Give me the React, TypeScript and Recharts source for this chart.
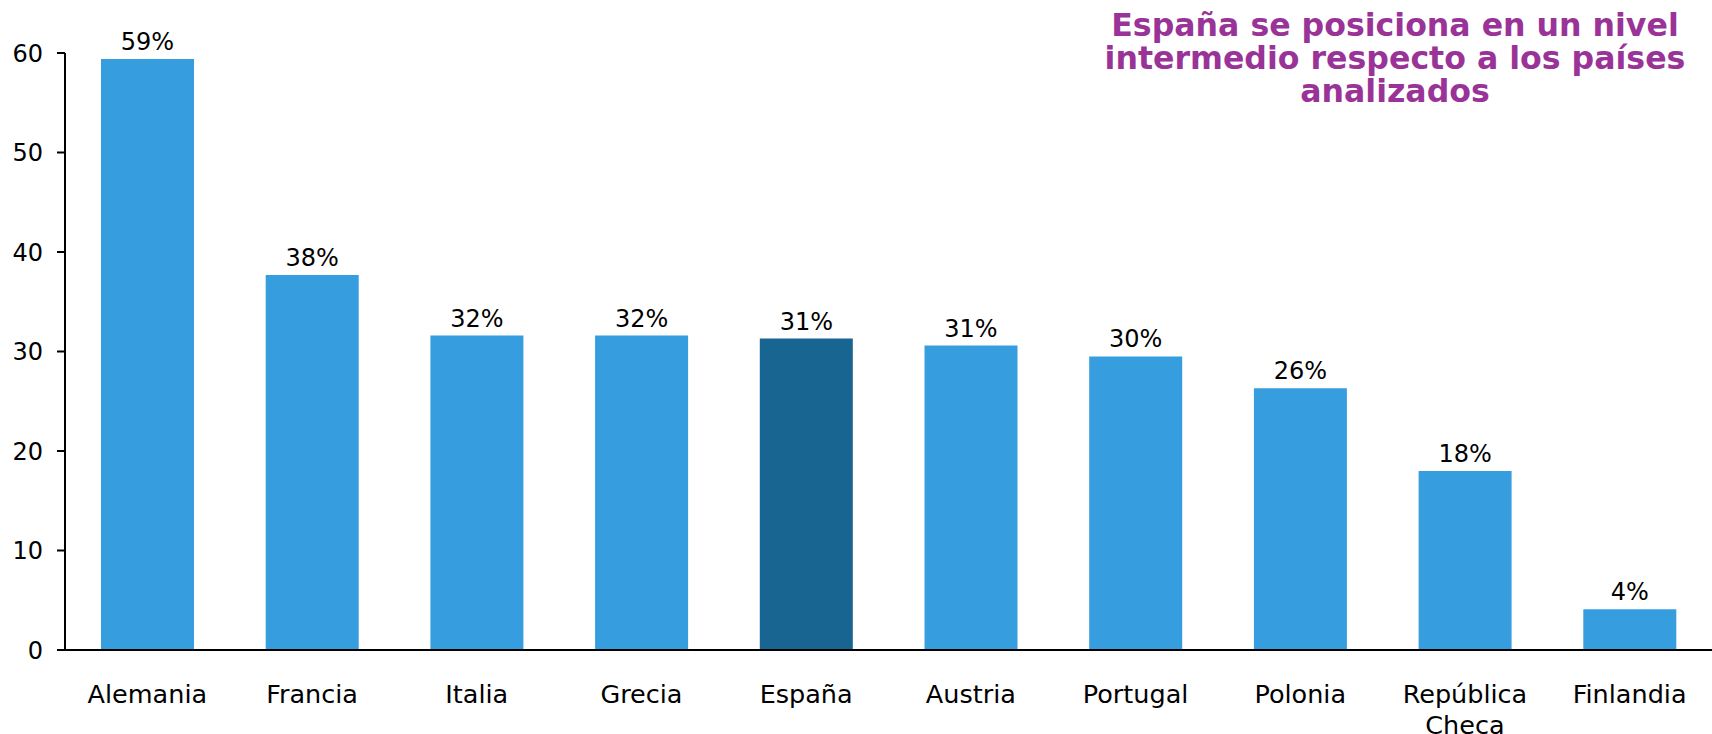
import { BarChart, Bar, XAxis, YAxis, Cell, LabelList } from 'recharts'

const countries = [
  'Alemania',
  'Francia',
  'Italia',
  'Grecia',
  'España',
  'Austria',
  'Portugal',
  'Polonia',
  'República Checa',
  'Finlandia',
]
const values = [59.4, 37.7, 31.6, 31.6, 31.3, 30.6, 29.5, 26.3, 18.0, 4.1]
const yTicks = [0, 10, 20, 30, 40, 50, 60]
const highlight = 'España'

const data = countries.map((name, i) => ({ name, value: values[i] }))

const FONT = '"DejaVu Sans", Verdana, sans-serif'

// two-word labels wrap onto a second line, like "República / Checa"
const CountryTick = ({ x, y, payload }: { x?: number; y?: number; payload?: { value: string } }) => {
  const words = payload && payload.value.includes(' ') ? payload.value.split(' ') : [payload?.value ?? '']
  return (
    <text x={x} y={y} textAnchor="middle" fill="#000" fontSize={25.5} fontFamily={FONT}>
      {words.map((w, i) => (
        <tspan key={w} x={x} dy={i === 0 ? 18 : 31}>
          {w}
        </tspan>
      ))}
    </text>
  )
}

export default function App() {
  return (
    <div style={{ position: 'absolute', left: 0, top: 0, width: 1712, height: 734, background: '#fff', fontFamily: FONT }}>
      <BarChart width={1712} height={734} data={data} margin={{ top: 53, right: 0, bottom: 0, left: 0 }}>
        <XAxis
          dataKey="name"
          height={84}
          tickLine={false}
          tickSize={0}
          tickMargin={35}
          axisLine={{ stroke: '#000', strokeWidth: 2 }}
          tick={<CountryTick />}
          interval={0}
        />
        <YAxis
          width={65}
          domain={[0, 60]}
          ticks={yTicks}
          tickSize={8}
          tickMargin={14}
          axisLine={{ stroke: '#000', strokeWidth: 2 }}
          tickLine={{ stroke: '#000', strokeWidth: 2 }}
          tick={{ fill: '#000', fontSize: 24, fontFamily: FONT }}
        />
        <Bar dataKey="value" barSize={93} isAnimationActive={false}>
          {data.map((d) => (
            <Cell key={d.name} fill={d.name === highlight ? '#186592' : '#369EDE'} />
          ))}
          <LabelList
            dataKey="value"
            position="top"
            offset={9}
            formatter={(v: number) => `${Math.round(v)}%`}
            style={{ fill: '#000', fontSize: 24, fontFamily: FONT }}
          />
        </Bar>
      </BarChart>
      <div
        style={{
          position: 'absolute',
          left: 1095,
          top: 9,
          width: 600,
          textAlign: 'center',
          color: '#9A3397',
          fontWeight: 'bold',
          fontSize: 31.6,
          lineHeight: '33px',
        }}
      >
        España se posiciona en un nivel
        <br />
        intermedio respecto a los países
        <br />
        analizados
      </div>
    </div>
  )
}
